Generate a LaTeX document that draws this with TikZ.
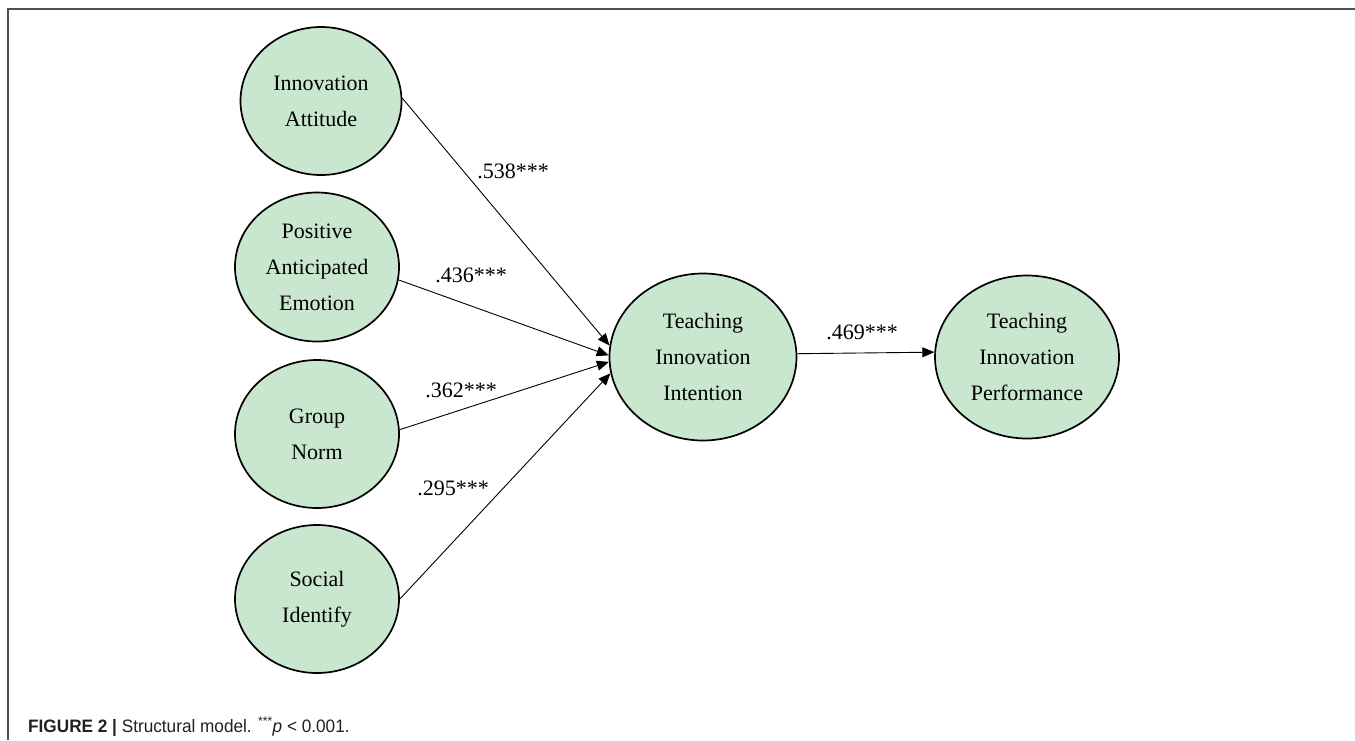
\documentclass[tikz,border=0pt]{standalone}
\usepackage{fontspec}
\setmainfont{Liberation Serif}
\newfontfamily\capfont{Liberation Sans}
\usetikzlibrary{shapes.geometric,arrows.meta}
\definecolor{nodegreen}{RGB}{201,230,206}
\definecolor{framegray}{RGB}{80,80,80}
\definecolor{captext}{RGB}{35,31,32}
\begin{document}
\begin{tikzpicture}[x=1pt,y=-1pt,
  latent/.style={ellipse,draw=black,line width=1.7pt,fill=nodegreen,inner sep=0pt,align=center,
    font=\fontsize{22}{36}\selectfont,text=black},
  effect/.style={draw=black,line width=0.9pt,-{Triangle[length=12pt,width=10pt]}},
  coef/.style={font=\fontsize{22}{26}\selectfont,inner sep=0pt,text=black}]
\useasboundingbox (0,0) rectangle (1355,740);
% frame
\draw[framegray,line width=2pt] (1355,9) -- (8,9) -- (8,740);
% latent variables
\node[latent,minimum width=161pt,minimum height=148pt] (IA) at (321,101) {Innovation\\Attitude};
\node[latent,minimum width=164pt,minimum height=149pt] (PAE) at (317,267) {Positive\\Anticipated\\Emotion};
\node[latent,minimum width=164pt,minimum height=148pt] (GN) at (317,434) {Group\\Norm};
\node[latent,minimum width=164pt,minimum height=148pt] (SI) at (317,599) {Social\\Identify};
\node[latent,minimum width=187pt,minimum height=167pt] (TII) at (703,357) {Teaching\\Innovation\\Intention};
\node[latent,minimum width=184pt,minimum height=163pt] (TIP) at (1027,357) {Teaching\\Innovation\\Performance};
% paths
\draw[effect] (IA.2) -- (TII.173);
\draw[effect] (PAE.-9) -- (TII.179);
\draw[effect] (GN.3) -- (TII.183);
\draw[effect] (SI.east) -- (TII.190);
\draw[effect] (TII.2.5) -- (TIP.177.5);
% coefficients
\node[coef] (c1) at (513,171) {.538***};
\node[coef] (c2) at (471,275) {.436***};
\node[coef] (c3) at (461,390) {.362***};
\node[coef] (c4) at (453,488) {.295***};
\node[coef] (c5) at (862,332) {.469***};
% caption
\node[anchor=base west,inner sep=0pt,font=\capfont\fontsize{18}{20}\selectfont,text=captext] (cap) at (28,732)
  {\scalebox{0.955}[1]{\textbf{FIGURE 2 |} Structural model. \textsuperscript{***}\textit{p} < 0.001.}};
\end{tikzpicture}
\end{document}
